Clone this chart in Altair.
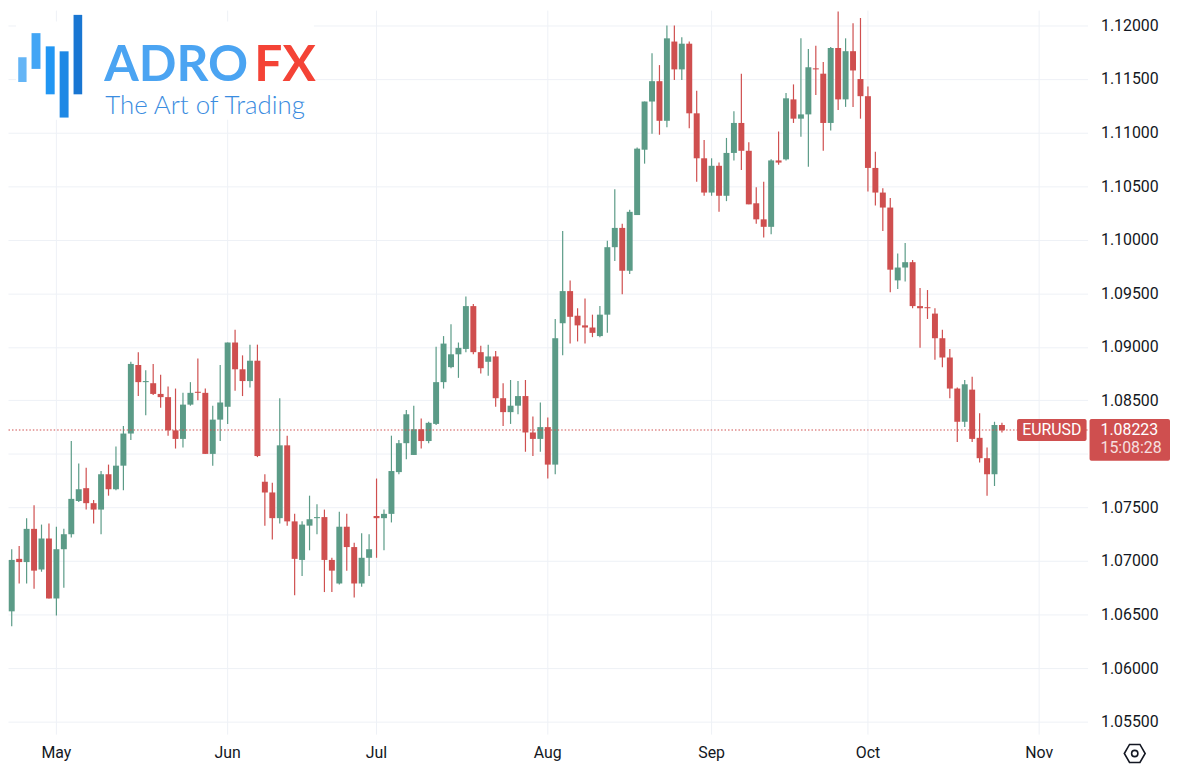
import pandas as pd
import altair as alt

# ---------------- data ----------------
opens = [1.0653, 1.0702, 1.0699, 1.0730, 1.0692, 1.0721, 1.0665, 1.0711, 1.0725, 1.0756,
         1.0768, 1.0754, 1.0748, 1.0781, 1.0767, 1.0789, 1.0819, 1.0883, 1.0867, 1.0866,
         1.0856, 1.0853, 1.0822, 1.0814, 1.0846, 1.0858, 1.0857, 1.0800, 1.0832, 1.0844,
         1.0904, 1.0879, 1.0868, 1.0887, 1.0774, 1.0764, 1.0740, 1.0808, 1.0737, 1.0701,
         1.0733, 1.0740, 1.0741, 1.0701, 1.0679, 1.0732, 1.0713, 1.0679, 1.0703, 1.0742,
         1.0740, 1.0744, 1.0783, 1.0810, 1.0799, 1.0823, 1.0812, 1.0828, 1.0867, 1.0881,
         1.0893, 1.0898, 1.0938, 1.0895, 1.0886, 1.0891, 1.0852, 1.0839, 1.0845, 1.0854,
         1.0820, 1.0814, 1.0825, 1.0790, 1.0922, 1.0952, 1.0929, 1.0920, 1.0918, 1.0910,
         1.0930, 1.0993, 1.1011, 1.0971, 1.1023, 1.1084, 1.1129, 1.1148, 1.1111, 1.1185,
         1.1159, 1.1183, 1.1118, 1.1076, 1.1044, 1.1069, 1.1041, 1.1081, 1.1109, 1.1083,
         1.1034, 1.1019, 1.1012, 1.1074, 1.1075, 1.1131, 1.1113, 1.1117, 1.1160, 1.1155,
         1.1109, 1.1179, 1.1131, 1.1176, 1.1150, 1.1134, 1.1067, 1.1044, 1.1030, 1.0962,
         1.0974, 1.0979, 1.0938, 1.0937, 1.0931, 1.0908, 1.0890, 1.0861, 1.0830, 1.0860,
         1.0815, 1.0796, 1.0781, 1.0827]

highs = [1.0711, 1.0714, 1.0740, 1.0752, 1.0734, 1.0735, 1.0732, 1.0730, 1.0812, 1.0791,
         1.0787, 1.0757, 1.0784, 1.0790, 1.0807, 1.0826, 1.0886, 1.0895, 1.0878, 1.0884,
         1.0874, 1.0863, 1.0861, 1.0857, 1.0867, 1.0889, 1.0861, 1.0845, 1.0883, 1.0904,
         1.0916, 1.0892, 1.0902, 1.0902, 1.0781, 1.0773, 1.0852, 1.0817, 1.0744, 1.0737,
         1.0761, 1.0753, 1.0748, 1.0703, 1.0746, 1.0744, 1.0717, 1.0726, 1.0725, 1.0777,
         1.0748, 1.0817, 1.0813, 1.0841, 1.0845, 1.0833, 1.0830, 1.0900, 1.0910, 1.0921,
         1.0904, 1.0947, 1.0940, 1.0901, 1.0902, 1.0896, 1.0866, 1.0869, 1.0868, 1.0869,
         1.0835, 1.0848, 1.0834, 1.0926, 1.1008, 1.0962, 1.0936, 1.0945, 1.0930, 1.0938,
         1.0999, 1.1047, 1.1015, 1.1028, 1.1086, 1.1129, 1.1174, 1.1163, 1.1200, 1.1200,
         1.1189, 1.1185, 1.1139, 1.1093, 1.1076, 1.1072, 1.1095, 1.1120, 1.1155, 1.1091,
         1.1049, 1.1054, 1.1075, 1.1101, 1.1137, 1.1145, 1.1188, 1.1178, 1.1181, 1.1166,
         1.1180, 1.1213, 1.1188, 1.1202, 1.1207, 1.1143, 1.1082, 1.1048, 1.1039, 1.0987,
         1.0997, 1.0981, 1.0955, 1.0953, 1.0936, 1.0916, 1.0898, 1.0862, 1.0869, 1.0872,
         1.0838, 1.0806, 1.0830, 1.0829]

lows = [1.0639, 1.0679, 1.0679, 1.0674, 1.0690, 1.0665, 1.0649, 1.0675, 1.0722, 1.0755,
        1.0748, 1.0735, 1.0725, 1.0761, 1.0766, 1.0766, 1.0813, 1.0854, 1.0836, 1.0855,
        1.0843, 1.0817, 1.0805, 1.0806, 1.0845, 1.0850, 1.0800, 1.0789, 1.0812, 1.0828,
        1.0859, 1.0854, 1.0862, 1.0797, 1.0733, 1.0720, 1.0735, 1.0733, 1.0668, 1.0686,
        1.0710, 1.0725, 1.0671, 1.0671, 1.0678, 1.0691, 1.0666, 1.0676, 1.0686, 1.0703,
        1.0710, 1.0736, 1.0781, 1.0795, 1.0799, 1.0805, 1.0810, 1.0827, 1.0861, 1.0880,
        1.0871, 1.0895, 1.0893, 1.0875, 1.0873, 1.0844, 1.0826, 1.0828, 1.0837, 1.0802,
        1.0798, 1.0802, 1.0777, 1.0781, 1.0892, 1.0903, 1.0905, 1.0903, 1.0909, 1.0909,
        1.0913, 1.0980, 1.0949, 1.0968, 1.1023, 1.1071, 1.1099, 1.1098, 1.1105, 1.1149,
        1.1149, 1.1104, 1.1054, 1.1041, 1.1041, 1.1026, 1.1036, 1.1074, 1.1065, 1.1033,
        1.1015, 1.1002, 1.1005, 1.1070, 1.1074, 1.1109, 1.1096, 1.1068, 1.1135, 1.1083,
        1.1102, 1.1121, 1.1124, 1.1124, 1.1113, 1.1045, 1.1032, 1.1008, 1.0951, 1.0954,
        1.0961, 1.0936, 1.0899, 1.0926, 1.0888, 1.0881, 1.0852, 1.0811, 1.0825, 1.0811,
        1.0792, 1.0761, 1.0770, 1.0820]

closes = [1.0701, 1.0699, 1.0730, 1.0691, 1.0721, 1.0665, 1.0711, 1.0725, 1.0758, 1.0767,
          1.0754, 1.0748, 1.0781, 1.0767, 1.0789, 1.0819, 1.0884, 1.0867, 1.0868, 1.0856,
          1.0853, 1.0822, 1.0814, 1.0846, 1.0857, 1.0857, 1.0800, 1.0832, 1.0848, 1.0904,
          1.0879, 1.0868, 1.0887, 1.0798, 1.0764, 1.0740, 1.0808, 1.0737, 1.0702, 1.0734,
          1.0739, 1.0741, 1.0701, 1.0691, 1.0732, 1.0713, 1.0679, 1.0703, 1.0711, 1.0740,
          1.0744, 1.0784, 1.0810, 1.0837, 1.0823, 1.0812, 1.0829, 1.0867, 1.0903, 1.0893,
          1.0899, 1.0938, 1.0895, 1.0880, 1.0891, 1.0852, 1.0839, 1.0845, 1.0854, 1.0820,
          1.0814, 1.0825, 1.0790, 1.0908, 1.0952, 1.0928, 1.0920, 1.0918, 1.0913, 1.0930,
          1.0993, 1.1011, 1.0971, 1.1026, 1.1085, 1.1129, 1.1148, 1.1111, 1.1188, 1.1159,
          1.1183, 1.1118, 1.1076, 1.1044, 1.1069, 1.1041, 1.1081, 1.1109, 1.1083, 1.1033,
          1.1019, 1.1012, 1.1074, 1.1072, 1.1132, 1.1113, 1.1117, 1.1161, 1.1159, 1.1109,
          1.1179, 1.1131, 1.1176, 1.1158, 1.1134, 1.1067, 1.1044, 1.1030, 1.0972, 1.0974,
          1.0979, 1.0938, 1.0936, 1.0936, 1.0908, 1.0890, 1.0861, 1.0830, 1.0865, 1.0814,
          1.0796, 1.0781, 1.0827, 1.0822]

# trading-day calendar of the time axis (candles + empty space on the right)
axis_dates = [d.strftime("%Y-%m-%d") for d in pd.bdate_range("2024-04-23", periods=145)]
candle_dates = axis_dates[:len(closes)]

month_starts = ["2024-05-01", "2024-06-03", "2024-07-01", "2024-08-01",
                "2024-09-02", "2024-10-01", "2024-11-01"]
month_labels = ["May", "Jun", "Jul", "Aug", "Sep", "Oct", "Nov"]

y_ticks = [1.055, 1.060, 1.065, 1.070, 1.075, 1.080, 1.085,
           1.090, 1.095, 1.100, 1.105, 1.110, 1.115, 1.120]
hidden_tick = 1.080  # its label sits under the last-price box in the reference

symbol = "EURUSD"
last_price = 1.08223
countdown = "15:08:28"

# ---------------- styling ----------------
W, H = 1087, 729
GREEN = "#5b9b87"
RED = "#cf4f4f"
GRID = "#eef1f6"
TXT = "#131722"
FONT = "Roboto"

xsc = alt.Scale(domain=axis_dates, paddingInner=0, paddingOuter=0)
ysc = alt.Scale(domain=[1.05379, 1.12139], zero=False, nice=False)
yaxis = alt.Axis(orient="right", values=y_ticks, format=".5f", grid=True, gridColor=GRID,
                 gridWidth=1, domain=False, ticks=False, tickSize=0, labelPadding=13,
                 labelFont=FONT, labelFontSize=16, labelColor=TXT, title=None,
                 labelOverlap=False,
                 labelExpr=f"abs(datum.value - {hidden_tick}) < 1e-9 ? '' : datum.label")

df = pd.DataFrame({"date": candle_dates, "open": opens, "high": highs,
                   "low": lows, "close": closes})
mdf = pd.DataFrame({"date": month_starts, "label": month_labels})
pdf = pd.DataFrame({"sym": [symbol], "price": [last_price],
                    "ptxt": [f"{last_price:.5f}"], "cd": [countdown]})
one = pd.DataFrame({"k": [0]})

up = alt.datum.close >= alt.datum.open
col = alt.condition(up, alt.value(GREEN), alt.value(RED))
X = alt.X("date:O", scale=xsc, axis=None)


def Y(field):
    return alt.Y(field, scale=ysc, axis=yaxis)


grid_v = alt.Chart(mdf).mark_rule(color=GRID, strokeWidth=1).encode(x=X)

wicks = alt.Chart(df).mark_rule(strokeWidth=1.2).encode(
    x=X, y=Y("low:Q"), y2="high:Q", stroke=col)

bodies = alt.Chart(df).mark_bar(size=6).encode(
    x=X, y=Y("open:Q"), y2="close:Q", color=col)

price_line = alt.Chart(pdf).mark_rule(color=RED, strokeDash=[1.5, 2], strokeWidth=1.2).encode(
    y=Y("price:Q"))

sym_box = alt.Chart(pdf).mark_rect(color=RED, cornerRadius=2, yOffset=-11, y2Offset=11).encode(
    x=alt.value(1016), x2=alt.value(1086), y=Y("price:Q"), y2="price:Q")
price_box = alt.Chart(pdf).mark_rect(color=RED, cornerRadius=2, yOffset=-11, y2Offset=31).encode(
    x=alt.value(1089), x2=alt.value(1170), y=Y("price:Q"), y2="price:Q")
sym_txt = alt.Chart(pdf).mark_text(color="white", font=FONT, fontSize=16, align="center",
                                   baseline="middle").encode(
    x=alt.value(1051), y=Y("price:Q"), text="sym:N")
price_txt = alt.Chart(pdf).mark_text(color="white", font=FONT, fontSize=16, align="left",
                                     baseline="middle").encode(
    x=alt.value(1100), y=Y("price:Q"), text="ptxt:N")
cd_txt = alt.Chart(pdf).mark_text(color="white", opacity=0.82, font=FONT, fontSize=16,
                                  align="left", baseline="middle", dy=18).encode(
    x=alt.value(1100), y=Y("price:Q"), text="cd:N")

month_txt = alt.Chart(mdf).mark_text(color=TXT, font=FONT, fontSize=16, align="center",
                                     baseline="middle").encode(
    x=X, y=alt.value(748), text="label:N")

# settings icon (bottom right)
hexagon = "M-1,0L-0.5,-0.866L0.5,-0.866L1,0L0.5,0.866L-0.5,0.866Z"
icon_hex = alt.Chart(one).mark_point(shape=hexagon, size=440, filled=False, stroke=TXT,
                                     strokeWidth=1.6, opacity=1).encode(
    x=alt.value(1134.5), y=alt.value(748))
icon_dot = alt.Chart(one).mark_point(shape="circle", size=40, filled=False, stroke=TXT,
                                     strokeWidth=1.6, opacity=1).encode(
    x=alt.value(1134.5), y=alt.value(748))

# logo
logo_layers = [alt.Chart(one).mark_rect(color="white").encode(
    x=alt.value(8), x2=alt.value(308), y=alt.value(11), y2=alt.value(110))]
for (xa, xb, ya, yb, c) in [(10.3, 18.7, 47, 72, "#64b5f6"),
                            (23.7, 32.7, 22.7, 58.7, "#42a5f5"),
                            (38, 47, 36, 84.3, "#2196f3"),
                            (52, 61, 41, 107.7, "#1e88e5"),
                            (66, 74.7, 4.3, 84.3, "#1976d2")]:
    logo_layers.append(alt.Chart(one).mark_rect(color=c).encode(
        x=alt.value(xa), x2=alt.value(xb), y=alt.value(ya), y2=alt.value(yb)))
logo_layers.append(alt.Chart(one).mark_text(
    text="ADRO", font="Lato", fontSize=50, fontWeight="bold", color="#4ba4f2",
    align="left", baseline="alphabetic").encode(x=alt.value(97), y=alt.value(71)))
logo_layers.append(alt.Chart(one).mark_text(
    text="FX", font="Lato", fontSize=50, fontWeight="bold", color="#f44336",
    align="left", baseline="alphabetic").encode(x=alt.value(248), y=alt.value(71)))
logo_layers.append(alt.Chart(one).mark_text(
    text="The Art of Trading", font="Lato", fontSize=26, fontWeight=300, color="#3a8ce0",
    align="left", baseline="alphabetic").encode(x=alt.value(98), y=alt.value(104.5)))

chart = alt.layer(
    grid_v, *logo_layers, wicks, bodies, price_line,
    sym_box, price_box, sym_txt, price_txt, cd_txt, month_txt, icon_hex, icon_dot
).properties(
    width=W, height=H,
    padding={"left": 0, "top": 0, "right": 83, "bottom": 31},
    autosize=alt.AutoSizeParams(type="none"),
    background="white",
).configure_view(stroke=None)

chart.save("out.html", embed_options={"renderer": "svg", "actions": False})
